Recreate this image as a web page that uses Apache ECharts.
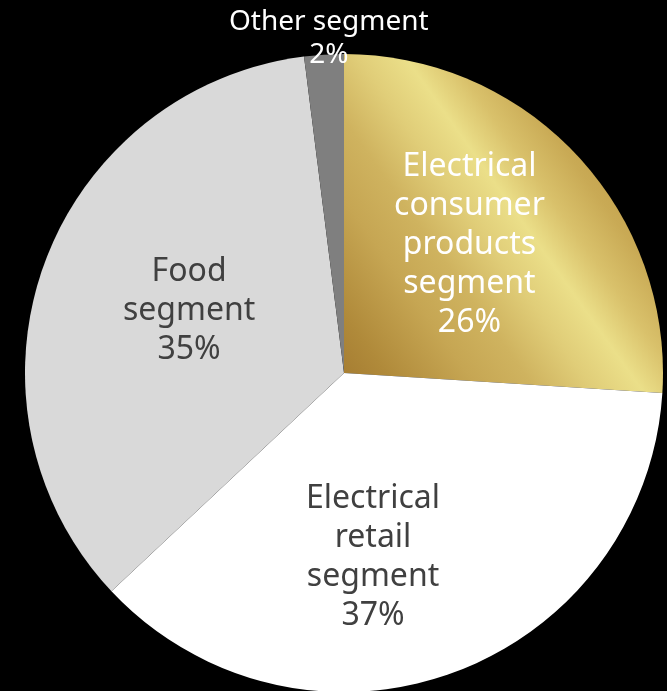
<!DOCTYPE html>
<html>
<head>
<meta charset="utf-8">
<script src="https://cdn.jsdelivr.net/npm/echarts@6/dist/echarts.min.js"></script>
<style>
  html, body { margin: 0; padding: 0; background: #000; }
  #chart { width: 667px; height: 691px; }
</style>
</head>
<body>
<div id="chart"></div>
<script>
// Revenue share by business segment
const segments = [
  'Electrical\nconsumer\nproducts\nsegment',
  'Electrical\nretail\nsegment',
  'Food\nsegment',
  'Other segment'
];
const shares = [26, 37, 35, 2];

const CX = 344, CY = 373, R = 319;

// Gold metallic fill for the consumer products slice: dark at the pie
// centre, a bright band across the middle, deeper gold again at the rim
const goldFill = {
  type: 'linear', global: true,
  x: CX, y: CY + 21, x2: CX + 270, y2: CY - 171,
  colorStops: [
    { offset: 0.00, color: '#a37a30' },
    { offset: 0.14, color: '#b08a3a' },
    { offset: 0.34, color: '#c6a653' },
    { offset: 0.48, color: '#cfb35f' },
    { offset: 0.62, color: '#e0cd78' },
    { offset: 0.74, color: '#ebdf89' },
    { offset: 0.85, color: '#d9c16b' },
    { offset: 0.97, color: '#c9aa55' },
    { offset: 1.00, color: '#c7a752' }
  ]
};

const sliceStyles = [
  { color: goldFill, text: '#ffffff', size: 32, lh: 39, offset: [7, -17] },
  { color: '#ffffff', text: '#404040', size: 32, lh: 39, offset: [-26, 31] },
  { color: '#d9d9d9', text: '#404040', size: 32, lh: 39, offset: [-2, -7] },
  { color: '#7f7f7f', text: '#ffffff', size: 28, lh: 33, offset: [-5, -172] }
];

const pieData = segments.map((name, i) => ({
  name: name,
  value: shares[i],
  itemStyle: { color: sliceStyles[i].color },
  label: {
    color: sliceStyles[i].text,
    fontSize: sliceStyles[i].size,
    lineHeight: sliceStyles[i].lh,
    offset: sliceStyles[i].offset
  }
}));

const chart = echarts.init(document.getElementById('chart'), null, { renderer: 'canvas' });
chart.setOption({
  backgroundColor: '#000000',
  animation: false,
  series: [{
    type: 'pie',
    center: [CX, CY],
    radius: R,
    startAngle: 90,
    clockwise: true,
    avoidLabelOverlap: false,
    emphasis: { disabled: true },
    itemStyle: { borderWidth: 0 },
    label: {
      show: true,
      position: 'inside',
      fontFamily: 'Noto Sans',
      align: 'center',
      formatter: p => p.name + '\n' + p.value + '%'
    },
    labelLine: { show: false },
    data: pieData
  }]
});
</script>
</body>
</html>
